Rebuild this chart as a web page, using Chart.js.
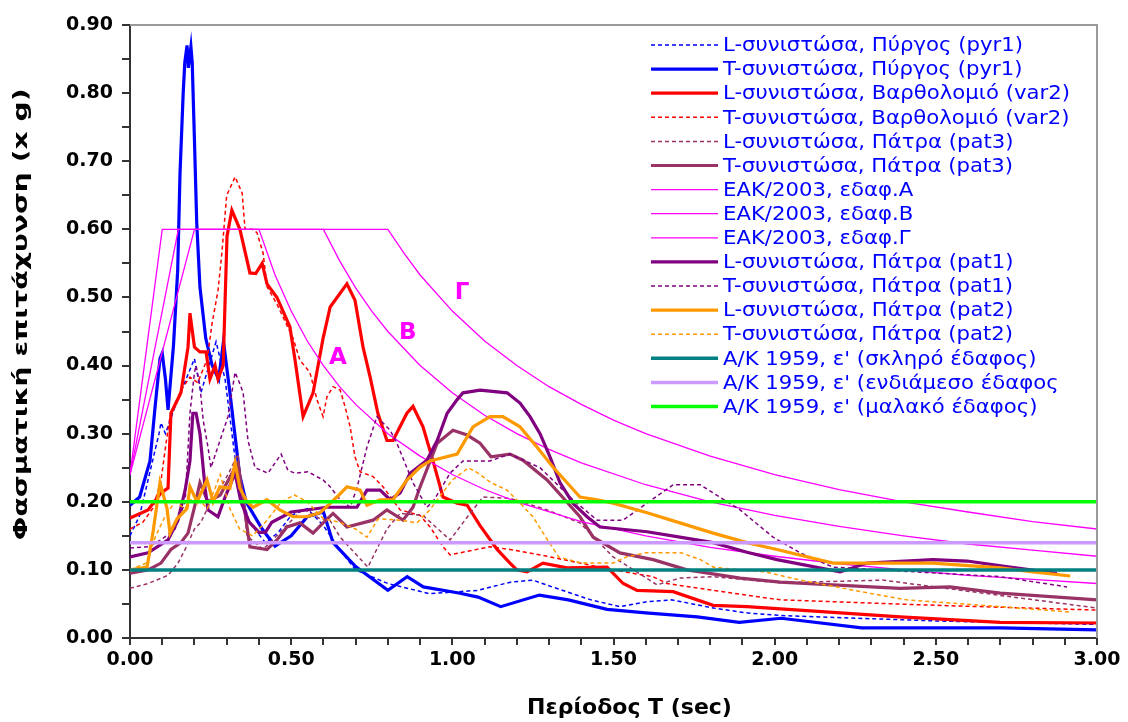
<!DOCTYPE html>
<html>
<head>
<meta charset="utf-8">
<script src="https://cdn.jsdelivr.net/npm/chart.js@4.4.1/dist/chart.umd.min.js"></script>
<style>
html,body{margin:0;padding:0;background:#fff;}
#wrap{width:1128px;height:722px;}
</style>
</head>
<body>
<div id="wrap"><canvas id="c" width="1128" height="722"></canvas></div>
<script>
// ---- Data (T in sec, value in g) ----
const labels = [
  "L-συνιστώσα, Πύργος (pyr1)",
  "T-συνιστώσα, Πύργος (pyr1)",
  "L-συνιστώσα, Βαρθολομιό (var2)",
  "T-συνιστώσα, Βαρθολομιό (var2)",
  "L-συνιστώσα, Πάτρα (pat3)",
  "T-συνιστώσα, Πάτρα (pat3)",
  "ΕΑΚ/2003, εδαφ.Α",
  "ΕΑΚ/2003, εδαφ.Β",
  "ΕΑΚ/2003, εδαφ.Γ",
  "L-συνιστώσα, Πάτρα (pat1)",
  "T-συνιστώσα, Πάτρα (pat1)",
  "L-συνιστώσα, Πάτρα (pat2)",
  "T-συνιστώσα, Πάτρα (pat2)",
  "Α/Κ 1959, ε' (σκληρό έδαφος)",
  "Α/Κ 1959, ε' (ενδιάμεσο έδαφος",
  "Α/Κ 1959, ε' (μαλακό έδαφος)"
];
const xTitle = "Περίοδος T (sec)";
const yTitle = "Φασματική επιτάχυνση (x g)";

const pyr1L = [[0,0.15],[0.03,0.18],[0.06,0.24],[0.09,0.30],[0.096,0.316],[0.11,0.30],[0.14,0.34],[0.174,0.38],[0.20,0.41],[0.22,0.36],[0.267,0.435],[0.295,0.38],[0.335,0.23],[0.37,0.17],[0.42,0.14],[0.46,0.155],[0.50,0.18],[0.55,0.19],[0.60,0.165],[0.65,0.13],[0.70,0.10],[0.80,0.08],[0.93,0.065],[1.08,0.07],[1.18,0.082],[1.25,0.085],[1.31,0.075],[1.43,0.056],[1.52,0.046],[1.60,0.053],[1.68,0.056],[1.81,0.044],[1.91,0.037],[2.02,0.033],[2.5,0.025],[3.0,0.02]];

const pyr1T = [[0,0.195],[0.03,0.207],[0.062,0.26],[0.078,0.34],[0.093,0.41],[0.10,0.418],[0.11,0.38],[0.118,0.335],[0.135,0.43],[0.148,0.54],[0.155,0.68],[0.165,0.80],[0.17,0.845],[0.177,0.87],[0.181,0.837],[0.189,0.868],[0.193,0.845],[0.20,0.73],[0.207,0.61],[0.217,0.515],[0.235,0.44],[0.255,0.40],[0.275,0.38],[0.29,0.435],[0.31,0.36],[0.34,0.24],[0.36,0.20],[0.41,0.16],[0.45,0.135],[0.50,0.15],[0.55,0.178],[0.60,0.185],[0.63,0.14],[0.70,0.105],[0.80,0.07],[0.86,0.09],[0.91,0.075],[1.02,0.066],[1.08,0.06],[1.15,0.046],[1.27,0.063],[1.36,0.056],[1.48,0.042],[1.60,0.037],[1.76,0.031],[1.89,0.023],[2.02,0.029],[2.27,0.015],[2.70,0.015],[3.00,0.012]];

const var2L = [[0,0.176],[0.056,0.188],[0.096,0.213],[0.118,0.22],[0.127,0.33],[0.158,0.36],[0.18,0.427],[0.186,0.477],[0.20,0.427],[0.217,0.42],[0.236,0.42],[0.248,0.38],[0.264,0.40],[0.273,0.38],[0.289,0.40],[0.301,0.59],[0.316,0.628],[0.341,0.60],[0.372,0.536],[0.39,0.535],[0.41,0.55],[0.425,0.52],[0.456,0.50],[0.496,0.457],[0.512,0.408],[0.537,0.325],[0.568,0.36],[0.599,0.44],[0.621,0.486],[0.673,0.52],[0.698,0.496],[0.723,0.427],[0.745,0.383],[0.769,0.33],[0.797,0.29],[0.816,0.29],[0.859,0.33],[0.878,0.34],[0.909,0.31],[0.94,0.26],[0.971,0.207],[1.015,0.198],[1.046,0.195],[1.086,0.165],[1.139,0.13],[1.179,0.11],[1.20,0.10],[1.232,0.097],[1.281,0.11],[1.356,0.103],[1.48,0.104],[1.53,0.08],[1.573,0.07],[1.685,0.068],[1.809,0.048],[1.914,0.046],[2.389,0.031],[2.7,0.023],[3.0,0.022]];

const var2T = [[0,0.16],[0.04,0.17],[0.07,0.19],[0.096,0.23],[0.11,0.28],[0.124,0.325],[0.158,0.364],[0.186,0.383],[0.21,0.375],[0.24,0.41],[0.254,0.46],[0.273,0.51],[0.285,0.565],[0.30,0.65],[0.326,0.677],[0.348,0.653],[0.357,0.60],[0.379,0.60],[0.394,0.595],[0.413,0.565],[0.425,0.516],[0.456,0.49],[0.506,0.44],[0.527,0.408],[0.558,0.39],[0.58,0.35],[0.599,0.325],[0.611,0.354],[0.63,0.369],[0.652,0.364],[0.667,0.34],[0.683,0.31],[0.698,0.266],[0.714,0.244],[0.754,0.237],[0.785,0.222],[0.838,0.188],[0.9,0.18],[0.931,0.163],[0.971,0.134],[0.993,0.122],[1.033,0.126],[1.117,0.134],[1.179,0.13],[1.294,0.12],[1.499,0.10],[1.623,0.09],[1.666,0.08],[1.809,0.07],[2.017,0.056],[2.5,0.048],[3.0,0.041]];

const pat3L = [[0,0.073],[0.056,0.08],[0.118,0.092],[0.149,0.11],[0.171,0.13],[0.20,0.16],[0.22,0.17],[0.25,0.20],[0.28,0.22],[0.304,0.24],[0.335,0.27],[0.363,0.15],[0.413,0.13],[0.465,0.155],[0.537,0.19],[0.59,0.175],[0.62,0.173],[0.652,0.148],[0.738,0.104],[0.797,0.16],[0.838,0.183],[0.909,0.18],[0.993,0.144],[1.055,0.183],[1.095,0.207],[1.18,0.205],[1.294,0.188],[1.396,0.169],[1.499,0.119],[1.635,0.078],[1.706,0.088],[1.809,0.09],[2.017,0.081],[2.336,0.085],[3.0,0.044]];

const pat3T = [[0,0.095],[0.056,0.10],[0.096,0.11],[0.127,0.13],[0.158,0.14],[0.18,0.154],[0.20,0.192],[0.217,0.228],[0.242,0.20],[0.28,0.21],[0.326,0.25],[0.335,0.257],[0.372,0.134],[0.425,0.13],[0.456,0.144],[0.487,0.163],[0.527,0.169],[0.568,0.154],[0.599,0.169],[0.63,0.183],[0.673,0.163],[0.754,0.173],[0.797,0.188],[0.847,0.173],[0.878,0.192],[0.9,0.222],[0.953,0.286],[1.002,0.305],[1.046,0.298],[1.086,0.286],[1.12,0.266],[1.179,0.27],[1.219,0.261],[1.294,0.232],[1.396,0.178],[1.437,0.148],[1.52,0.125],[1.623,0.115],[1.728,0.10],[1.893,0.088],[2.017,0.082],[2.389,0.073],[2.544,0.075],[2.7,0.066],[3.0,0.056]];

const eakA = [[0,0.24],[0.1,0.6],[0.4,0.6],[0.45,0.533],[0.5,0.48],[0.55,0.436],[0.6,0.40],[0.65,0.369],[0.7,0.343],[0.8,0.30],[0.9,0.267],[1.0,0.24],[1.1,0.218],[1.2,0.20],[1.4,0.171],[1.6,0.15],[1.8,0.133],[2.0,0.12],[2.2,0.109],[2.4,0.10],[2.6,0.092],[2.8,0.086],[3.0,0.08]];
const eakB = [[0,0.24],[0.15,0.6],[0.6,0.6],[0.65,0.554],[0.7,0.514],[0.75,0.48],[0.8,0.45],[0.9,0.40],[1.0,0.36],[1.1,0.327],[1.2,0.30],[1.3,0.277],[1.4,0.257],[1.6,0.225],[1.8,0.20],[2.0,0.18],[2.2,0.164],[2.4,0.15],[2.6,0.138],[2.8,0.129],[3.0,0.12]];
const eakG = [[0,0.24],[0.2,0.6],[0.8,0.6],[0.85,0.565],[0.9,0.533],[1.0,0.48],[1.1,0.436],[1.2,0.40],[1.3,0.369],[1.4,0.343],[1.5,0.32],[1.6,0.30],[1.8,0.267],[2.0,0.24],[2.2,0.218],[2.4,0.20],[2.6,0.185],[2.8,0.171],[3.0,0.16]];

const pat1L = [[0,0.119],[0.056,0.125],[0.118,0.144],[0.149,0.173],[0.171,0.217],[0.186,0.26],[0.195,0.33],[0.205,0.33],[0.217,0.30],[0.233,0.22],[0.242,0.188],[0.273,0.178],[0.295,0.207],[0.326,0.242],[0.344,0.20],[0.37,0.17],[0.40,0.155],[0.42,0.155],[0.44,0.17],[0.50,0.185],[0.611,0.192],[0.704,0.192],[0.735,0.217],[0.776,0.217],[0.807,0.203],[0.838,0.213],[0.869,0.242],[0.921,0.261],[0.953,0.29],[0.984,0.33],[1.015,0.35],[1.033,0.36],[1.086,0.364],[1.17,0.36],[1.21,0.345],[1.241,0.325],[1.272,0.30],[1.303,0.266],[1.334,0.228],[1.374,0.198],[1.418,0.178],[1.458,0.163],[1.604,0.156],[1.706,0.148],[1.809,0.14],[1.914,0.126],[2.007,0.115],[2.203,0.097],[2.287,0.11],[2.491,0.115],[2.597,0.113],[2.73,0.104],[2.876,0.095]];

const pat1T = [[0,0.132],[0.056,0.134],[0.096,0.144],[0.14,0.16],[0.171,0.20],[0.186,0.33],[0.20,0.39],[0.205,0.40],[0.217,0.37],[0.227,0.32],[0.242,0.28],[0.251,0.25],[0.304,0.325],[0.326,0.39],[0.341,0.373],[0.351,0.36],[0.366,0.29],[0.388,0.25],[0.428,0.242],[0.469,0.27],[0.49,0.246],[0.512,0.242],[0.552,0.244],[0.599,0.232],[0.621,0.222],[0.652,0.203],[0.683,0.192],[0.704,0.22],[0.735,0.28],[0.766,0.325],[0.807,0.305],[0.828,0.286],[0.878,0.228],[0.921,0.192],[0.94,0.20],[0.993,0.242],[1.033,0.26],[1.077,0.26],[1.117,0.26],[1.179,0.27],[1.272,0.25],[1.374,0.203],[1.449,0.173],[1.53,0.173],[1.604,0.198],[1.685,0.225],[1.769,0.225],[1.893,0.188],[1.995,0.148],[2.079,0.125],[2.181,0.104],[2.7,0.09],[2.907,0.075]];

const pat2L = [[0,0.10],[0.053,0.104],[0.071,0.154],[0.093,0.228],[0.115,0.19],[0.124,0.154],[0.146,0.175],[0.177,0.19],[0.186,0.222],[0.208,0.20],[0.239,0.232],[0.258,0.20],[0.279,0.222],[0.31,0.22],[0.326,0.257],[0.341,0.22],[0.363,0.20],[0.382,0.192],[0.425,0.203],[0.465,0.188],[0.506,0.178],[0.549,0.178],[0.59,0.184],[0.642,0.207],[0.673,0.222],[0.714,0.217],[0.735,0.195],[0.776,0.203],[0.816,0.203],[0.859,0.232],[0.9,0.251],[0.931,0.26],[1.015,0.27],[1.064,0.31],[1.117,0.325],[1.157,0.325],[1.21,0.31],[1.263,0.28],[1.312,0.251],[1.356,0.228],[1.396,0.207],[1.449,0.203],[1.499,0.198],[1.604,0.184],[1.706,0.169],[1.809,0.154],[1.914,0.14],[2.007,0.13],[2.181,0.11],[2.491,0.11],[2.7,0.103],[2.802,0.097],[2.917,0.091]];

const pat2T = [[0,0.10],[0.05,0.11],[0.08,0.15],[0.11,0.18],[0.14,0.20],[0.17,0.19],[0.20,0.21],[0.24,0.19],[0.28,0.24],[0.31,0.19],[0.34,0.16],[0.38,0.15],[0.42,0.17],[0.47,0.20],[0.51,0.21],[0.55,0.20],[0.60,0.175],[0.65,0.17],[0.70,0.16],[0.735,0.148],[0.77,0.175],[0.84,0.173],[0.89,0.169],[0.93,0.188],[0.96,0.207],[1.0,0.232],[1.05,0.25],[1.08,0.242],[1.12,0.228],[1.17,0.217],[1.21,0.198],[1.25,0.178],[1.29,0.148],[1.33,0.119],[1.40,0.11],[1.50,0.11],[1.54,0.119],[1.60,0.125],[1.71,0.125],[1.77,0.115],[1.81,0.104],[1.89,0.10],[1.97,0.097],[2.08,0.085],[2.29,0.066],[2.41,0.056],[2.7,0.046],[2.92,0.038]];

const akHard = [[0,0.10],[3,0.10]];
const akMid  = [[0,0.14],[3,0.14]];
const akSoft = [[0,0.20],[3,0.20]];

const annotText = ["Α","Β","Γ"];
const annotT = [0.645, 0.862, 1.03];
const annotV = [0.411, 0.448, 0.507];

// ---- styles ----
const seriesData = [pyr1L,pyr1T,var2L,var2T,pat3L,pat3T,eakA,eakB,eakG,pat1L,pat1T,pat2L,pat2T,akHard,akMid,akSoft];
const colors = ['#0000ff','#0000ff','#ff0000','#ff0000','#993366','#993366','#ff00ff','#ff00ff','#ff00ff','#800080','#800080','#ff9900','#ff9900','#008080','#cc99ff','#00ff00'];
const widths = [1.5,3.2,3.2,1.5,1.5,3.2,1.3,1.3,1.3,3.2,1.5,3.2,1.5,3.5,3.5,3.5];
const dashed = [true,false,false,true,true,false,false,false,false,false,true,false,true,false,false,false];

const FONT = '"DejaVu Sans", Verdana, sans-serif';

const datasets = seriesData.map((d,i)=>({
  label: labels[i],
  data: d.map(p=>({x:p[0],y:p[1]})),
  borderColor: colors[i],
  backgroundColor: colors[i],
  borderWidth: widths[i],
  borderDash: dashed[i] ? [4,3] : [],
  pointRadius: 0,
  fill: false,
  tension: 0,
  order: -i
}));

const overlay = {
  id: 'overlay',
  afterDatasetsDraw(chart){
    const ctx = chart.ctx, ca = chart.chartArea;
    const xs = chart.scales.x, ys = chart.scales.y;
    ctx.save();
    // frame top & right
    ctx.strokeStyle = '#9a9a9a'; ctx.lineWidth = 2;
    ctx.beginPath(); ctx.moveTo(ca.left, ca.top); ctx.lineTo(ca.right, ca.top); ctx.lineTo(ca.right, ca.bottom); ctx.stroke();
    // annotations
    ctx.fillStyle = '#ff00ff';
    ctx.font = 'bold 23px ' + FONT;
    ctx.textAlign = 'center'; ctx.textBaseline = 'middle';
    annotText.forEach((t,i)=>{ ctx.fillText(t, xs.getPixelForValue(annotT[i]), ys.getPixelForValue(annotV[i])); });
    // legend
    ctx.textAlign = 'left';
    ctx.font = '20px ' + FONT;
    const sx = 300 / ctx.measureText(labels[0]).width;
    chart.data.datasets.forEach((ds,i)=>{
      const y = 45 + i*24.1;
      ctx.strokeStyle = ds.borderColor;
      ctx.lineWidth = ds.borderWidth;
      ctx.setLineDash(ds.borderDash);
      ctx.beginPath(); ctx.moveTo(651, y); ctx.lineTo(718, y); ctx.stroke();
      ctx.setLineDash([]);
      ctx.fillStyle = '#0000ff';
      ctx.save();
      ctx.translate(723, y+1);
      ctx.scale(sx, 1);
      ctx.fillText(ds.label, 0, 0);
      ctx.restore();
    });
    // axis titles
    ctx.fillStyle = '#000';
    ctx.font = 'bold 22px ' + FONT;
    ctx.textAlign = 'center'; ctx.textBaseline = 'middle';
    ctx.fillText(xTitle, (ca.left + ca.right)/2 + 16, 708);
    ctx.font = 'bold 20px ' + FONT;
    const w = ctx.measureText(yTitle).width;
    ctx.translate(22, (ca.top + ca.bottom)/2 - 17);
    ctx.rotate(-Math.PI/2);
    ctx.scale(452 / w, 1);
    ctx.fillText(yTitle, 0, 0);
    ctx.restore();
  }
};

new Chart(document.getElementById('c'), {
  type: 'line',
  data: { datasets },
  plugins: [overlay],
  options: {
    responsive: false,
    devicePixelRatio: 1,
    animation: false,
    layout: { padding: { left: 0, top: 25, right: 31, bottom: 0 } },
    plugins: { legend: { display: false }, tooltip: { enabled: false } },
    scales: {
      x: {
        type: 'linear', min: 0, max: 3,
        afterFit(s){ s.height = 84; },
        ticks: {
          stepSize: 0.1, autoSkip: false, maxRotation: 0,
          color: '#000', font: { family: FONT, size: 19, weight: 'bold' }, padding: 4,
          callback(v){ return Math.round(v*10) % 5 === 0 ? v.toFixed(2) : ''; }
        },
        grid: { drawOnChartArea: false, drawTicks: true, tickLength: 7, tickColor: '#333', lineWidth: 2 },
        border: { display: true, color: '#333', width: 2 },
        title: { display: false }
      },
      y: {
        min: 0, max: 0.9,
        afterFit(s){ s.width = 130; },
        ticks: {
          stepSize: 0.05, autoSkip: false,
          color: '#000', font: { family: FONT, size: 19, weight: 'bold' }, padding: 9,
          callback(v){ return Math.round(v*100) % 10 === 0 ? v.toFixed(2) : ''; }
        },
        grid: { drawOnChartArea: false, drawTicks: true, tickLength: 8, tickColor: '#333', lineWidth: 2 },
        border: { display: true, color: '#333', width: 2 },
        title: { display: false }
      }
    }
  }
});
</script>
</body>
</html>
